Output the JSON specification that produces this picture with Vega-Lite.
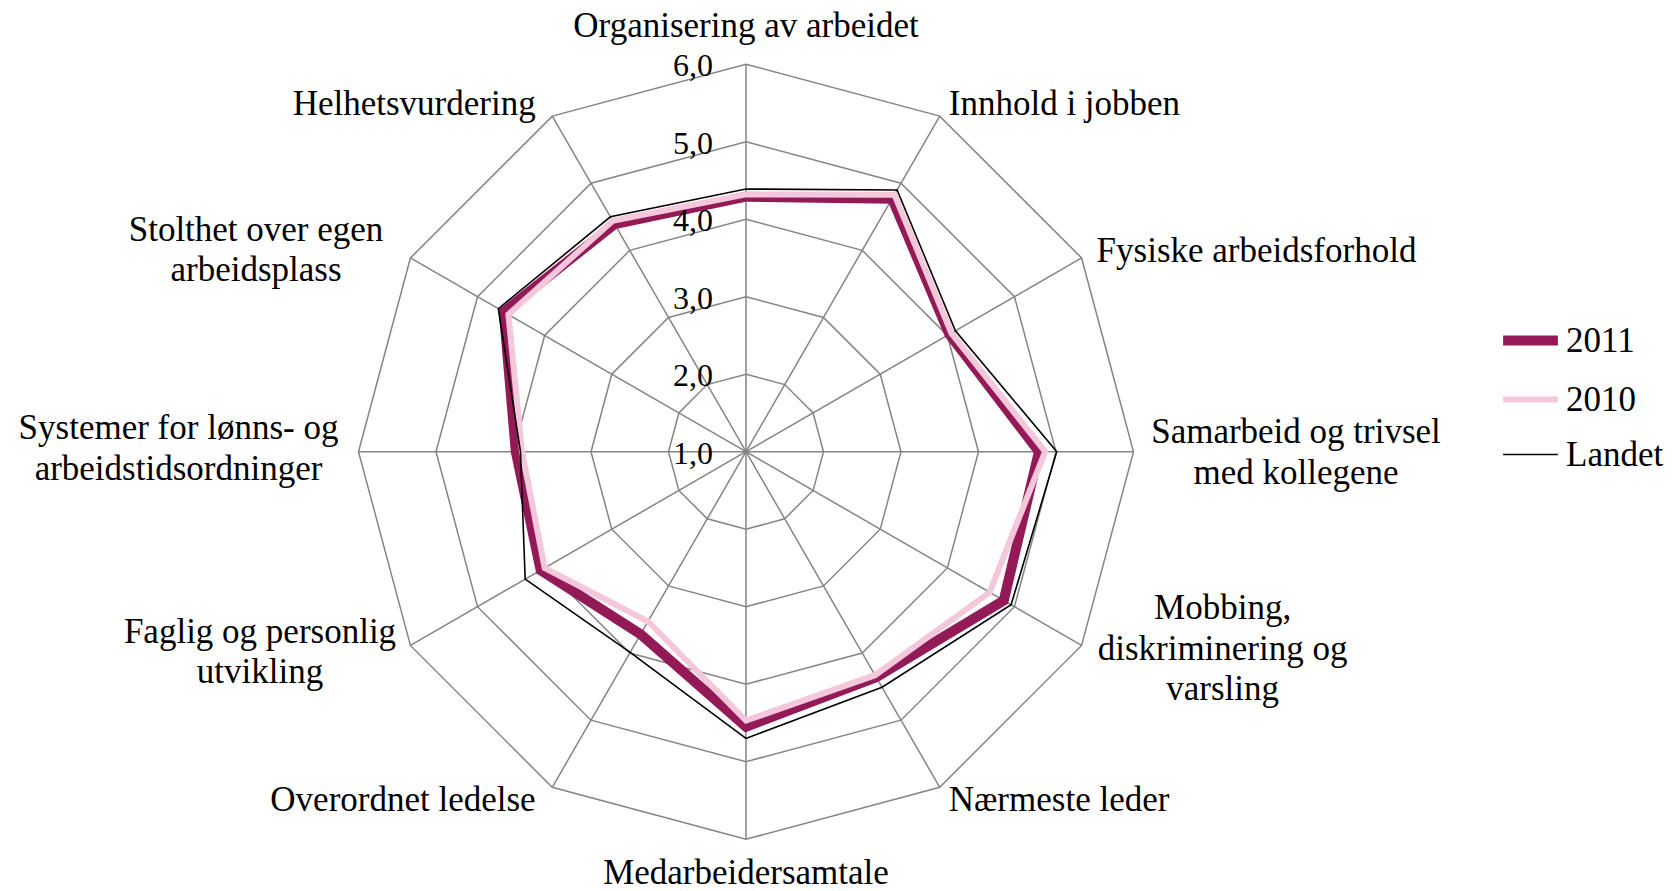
{
  "$schema": "https://vega.github.io/schema/vega-lite/v6.json",
  "width": 1673,
  "height": 891,
  "padding": 0,
  "autosize": {"type": "none"},
  "background": "white",
  "config": {
    "view": {"stroke": null},
    "text": {"font": "Liberation Serif", "color": "#000000"},
    "legend": {
      "orient": "none",
      "legendX": 1498,
      "legendY": 308,
      "padding": 0,
      "symbolType": "stroke",
      "symbolSize": 3000,
      "labelFont": "Liberation Serif",
      "labelFontSize": 35,
      "labelColor": "#000000",
      "labelOffset": 3,
      "rowPadding": 8
    }
  },
  "datasets": {
    "labels": [
      {"i": 0, "label": "Organisering av arbeidet"},
      {"i": 1, "label": "Innhold i jobben"},
      {"i": 2, "label": "Fysiske arbeidsforhold"},
      {"i": 3, "label": "Samarbeid og trivsel\nmed kollegene"},
      {"i": 4, "label": "Mobbing,\ndiskriminering og\nvarsling"},
      {"i": 5, "label": "Nærmeste leder"},
      {"i": 6, "label": "Medarbeidersamtale"},
      {"i": 7, "label": "Overordnet ledelse"},
      {"i": 8, "label": "Faglig og personlig\nutvikling"},
      {"i": 9, "label": "Systemer for lønns- og\narbeidstidsordninger"},
      {"i": 10, "label": "Stolthet over egen\narbeidsplass"},
      {"i": 11, "label": "Helhetsvurdering"}
    ],
    "rings": [
      {"level": 2, "idx": [0, 1, 2, 3, 4, 5, 6, 7, 8, 9, 10, 11]},
      {"level": 3, "idx": [0, 1, 2, 3, 4, 5, 6, 7, 8, 9, 10, 11]},
      {"level": 4, "idx": [0, 1, 2, 3, 4, 5, 6, 7, 8, 9, 10, 11]},
      {"level": 5, "idx": [0, 1, 2, 3, 4, 5, 6, 7, 8, 9, 10, 11]},
      {"level": 6, "idx": [0, 1, 2, 3, 4, 5, 6, 7, 8, 9, 10, 11]}
    ],
    "ticks": [
      {"level": 1}, {"level": 2}, {"level": 3}, {"level": 4}, {"level": 5}, {"level": 6}
    ],
    "scores": [
      {"i": 0, "serie": "2011", "verdi": 4.29},
      {"i": 1, "serie": "2011", "verdi": 4.77},
      {"i": 2, "serie": "2011", "verdi": 4.03},
      {"i": 3, "serie": "2011", "verdi": 4.78},
      {"i": 4, "serie": "2011", "verdi": 4.84},
      {"i": 5, "serie": "2011", "verdi": 4.36},
      {"i": 6, "serie": "2011", "verdi": 4.55},
      {"i": 7, "serie": "2011", "verdi": 3.72},
      {"i": 8, "serie": "2011", "verdi": 4.06},
      {"i": 9, "serie": "2011", "verdi": 3.97},
      {"i": 10, "serie": "2011", "verdi": 4.61},
      {"i": 11, "serie": "2011", "verdi": 4.39},
      {"i": 0, "serie": "2010", "verdi": 4.32},
      {"i": 1, "serie": "2010", "verdi": 4.83},
      {"i": 2, "serie": "2010", "verdi": 4.06},
      {"i": 3, "serie": "2010", "verdi": 4.86},
      {"i": 4, "serie": "2010", "verdi": 4.63},
      {"i": 5, "serie": "2010", "verdi": 4.33},
      {"i": 6, "serie": "2010", "verdi": 4.47},
      {"i": 7, "serie": "2010", "verdi": 3.53},
      {"i": 8, "serie": "2010", "verdi": 4.0},
      {"i": 9, "serie": "2010", "verdi": 3.89},
      {"i": 10, "serie": "2010", "verdi": 4.54},
      {"i": 11, "serie": "2010", "verdi": 4.44},
      {"i": 0, "serie": "Landet", "verdi": 4.39},
      {"i": 1, "serie": "Landet", "verdi": 4.9},
      {"i": 2, "serie": "Landet", "verdi": 4.12},
      {"i": 3, "serie": "Landet", "verdi": 5.01},
      {"i": 4, "serie": "Landet", "verdi": 4.95},
      {"i": 5, "serie": "Landet", "verdi": 4.51},
      {"i": 6, "serie": "Landet", "verdi": 4.7},
      {"i": 7, "serie": "Landet", "verdi": 3.99},
      {"i": 8, "serie": "Landet", "verdi": 4.29},
      {"i": 9, "serie": "Landet", "verdi": 3.91},
      {"i": 10, "serie": "Landet", "verdi": 4.69},
      {"i": 11, "serie": "Landet", "verdi": 4.5}
    ]
  },
  "encoding": {
    "x": {"field": "px", "type": "quantitative", "scale": {"domain": [-9.6258, 11.9613], "nice": false, "zero": false}, "axis": null},
    "y": {"field": "py", "type": "quantitative", "scale": {"domain": [-5.6684, 5.8284], "nice": false, "zero": false}, "axis": null}
  },
  "layer": [
    {
      "data": {"name": "labels"},
      "transform": [
        {"calculate": "0", "as": "px"},
        {"calculate": "0", "as": "py"},
        {"calculate": "5*sin(datum.i*PI/6)", "as": "ox"},
        {"calculate": "5*cos(datum.i*PI/6)", "as": "oy"}
      ],
      "mark": {"type": "rule", "color": "#858585", "strokeWidth": 1.5},
      "encoding": {
        "x2": {"field": "ox"},
        "y2": {"field": "oy"}
      }
    },
    {
      "data": {"name": "rings"},
      "transform": [
        {"flatten": ["idx"]},
        {"calculate": "(datum.level-1)*sin(datum.idx*PI/6)", "as": "px"},
        {"calculate": "(datum.level-1)*cos(datum.idx*PI/6)", "as": "py"}
      ],
      "mark": {"type": "line", "interpolate": "linear-closed", "color": "#858585", "strokeWidth": 1.5},
      "encoding": {
        "detail": {"field": "level", "type": "nominal"},
        "order": {"field": "idx", "type": "quantitative"}
      }
    },
    {
      "data": {"name": "scores"},
      "transform": [
        {"filter": "datum.serie == '2011'"},
        {"calculate": "(datum.verdi-1)*sin(datum.i*PI/6)", "as": "px"},
        {"calculate": "(datum.verdi-1)*cos(datum.i*PI/6)", "as": "py"}
      ],
      "mark": {"type": "line", "interpolate": "linear-closed", "strokeJoin": "miter"},
      "encoding": {
        "order": {"field": "i", "type": "quantitative"},
        "color": {"field": "serie", "type": "nominal", "scale": {"domain": ["2011", "2010", "Landet"], "range": ["#931A56", "#F5C7DB", "#000000"]}, "legend": {"title": null}},
        "strokeWidth": {"field": "serie", "type": "nominal", "scale": {"type": "ordinal", "domain": ["2011", "2010", "Landet"], "range": [10, 6, 1.6]}, "legend": {"title": null}}
      }
    },
    {
      "data": {"name": "scores"},
      "transform": [
        {"filter": "datum.serie == '2010'"},
        {"calculate": "(datum.verdi-1)*sin(datum.i*PI/6)", "as": "px"},
        {"calculate": "(datum.verdi-1)*cos(datum.i*PI/6)", "as": "py"}
      ],
      "mark": {"type": "line", "interpolate": "linear-closed", "strokeJoin": "miter"},
      "encoding": {
        "order": {"field": "i", "type": "quantitative"},
        "color": {"field": "serie", "type": "nominal", "scale": {"domain": ["2011", "2010", "Landet"], "range": ["#931A56", "#F5C7DB", "#000000"]}, "legend": {"title": null}},
        "strokeWidth": {"field": "serie", "type": "nominal", "scale": {"type": "ordinal", "domain": ["2011", "2010", "Landet"], "range": [10, 6, 1.6]}, "legend": {"title": null}}
      }
    },
    {
      "data": {"name": "scores"},
      "transform": [
        {"filter": "datum.serie == 'Landet'"},
        {"calculate": "(datum.verdi-1)*sin(datum.i*PI/6)", "as": "px"},
        {"calculate": "(datum.verdi-1)*cos(datum.i*PI/6)", "as": "py"}
      ],
      "mark": {"type": "line", "interpolate": "linear-closed", "strokeJoin": "miter"},
      "encoding": {
        "order": {"field": "i", "type": "quantitative"},
        "color": {"field": "serie", "type": "nominal", "scale": {"domain": ["2011", "2010", "Landet"], "range": ["#931A56", "#F5C7DB", "#000000"]}, "legend": {"title": null}},
        "strokeWidth": {"field": "serie", "type": "nominal", "scale": {"type": "ordinal", "domain": ["2011", "2010", "Landet"], "range": [10, 6, 1.6]}, "legend": {"title": null}}
      }
    },
    {
      "data": {"name": "ticks"},
      "transform": [
        {"calculate": "0", "as": "px"},
        {"calculate": "datum.level-1", "as": "py"},
        {"calculate": "replace(format(datum.level, '.1f'), '.', ',')", "as": "txt"}
      ],
      "mark": {"type": "text", "align": "right", "baseline": "middle", "dx": -33, "dy": 2, "fontSize": 32, "font": "Liberation Serif", "color": "#000000"},
      "encoding": {"text": {"field": "txt"}}
    },
    {
      "data": {"name": "labels"},
      "transform": [
        {"calculate": "5*sin(datum.i*PI/6)", "as": "px"},
        {"calculate": "5*cos(datum.i*PI/6)", "as": "py"}
      ],
      "encoding": {"text": {"field": "label"}},
      "layer": [
        {"transform": [{"filter": "datum.i == 0"}], "mark": {"type": "text", "align": "center", "baseline": "alphabetic", "dx": 0, "dy": -27, "fontSize": 35, "lineHeight": 40.5, "lineBreak": "\n"}},
        {"transform": [{"filter": "datum.i == 1"}], "mark": {"type": "text", "align": "left", "baseline": "alphabetic", "dx": 9, "dy": -1, "fontSize": 35, "lineHeight": 40.5, "lineBreak": "\n"}},
        {"transform": [{"filter": "datum.i == 2"}], "mark": {"type": "text", "align": "left", "baseline": "alphabetic", "dx": 15, "dy": 4.5, "fontSize": 35, "lineHeight": 40.5, "lineBreak": "\n"}},
        {"transform": [{"filter": "datum.i == 3"}], "mark": {"type": "text", "align": "center", "baseline": "alphabetic", "dx": 162.5, "dy": -8.7, "fontSize": 35, "lineHeight": 40.5, "lineBreak": "\n"}},
        {"transform": [{"filter": "datum.i == 4"}], "mark": {"type": "text", "align": "center", "baseline": "alphabetic", "dx": 141, "dy": -26.2, "fontSize": 35, "lineHeight": 40.5, "lineBreak": "\n"}},
        {"transform": [{"filter": "datum.i == 5"}], "mark": {"type": "text", "align": "left", "baseline": "alphabetic", "dx": 9, "dy": 23.7, "fontSize": 35, "lineHeight": 40.5, "lineBreak": "\n"}},
        {"transform": [{"filter": "datum.i == 6"}], "mark": {"type": "text", "align": "center", "baseline": "alphabetic", "dx": 0, "dy": 45, "fontSize": 35, "lineHeight": 40.5, "lineBreak": "\n"}},
        {"transform": [{"filter": "datum.i == 7"}], "mark": {"type": "text", "align": "right", "baseline": "alphabetic", "dx": -16.6, "dy": 23.7, "fontSize": 35, "lineHeight": 40.5, "lineBreak": "\n"}},
        {"transform": [{"filter": "datum.i == 8"}], "mark": {"type": "text", "align": "center", "baseline": "alphabetic", "dx": -150.4, "dy": -2.5, "fontSize": 35, "lineHeight": 40.5, "lineBreak": "\n"}},
        {"transform": [{"filter": "datum.i == 9"}], "mark": {"type": "text", "align": "center", "baseline": "alphabetic", "dx": -180, "dy": -12.4, "fontSize": 35, "lineHeight": 40.5, "lineBreak": "\n"}},
        {"transform": [{"filter": "datum.i == 10"}], "mark": {"type": "text", "align": "center", "baseline": "alphabetic", "dx": -154.4, "dy": -17, "fontSize": 35, "lineHeight": 40.5, "lineBreak": "\n"}},
        {"transform": [{"filter": "datum.i == 11"}], "mark": {"type": "text", "align": "right", "baseline": "alphabetic", "dx": -16.6, "dy": -1, "fontSize": 35, "lineHeight": 40.5, "lineBreak": "\n"}}
      ]
    }
  ]
}
